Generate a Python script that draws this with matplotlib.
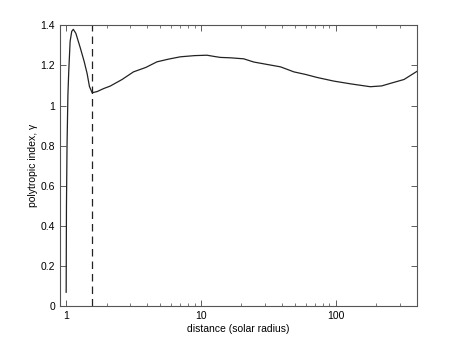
import numpy as np
import matplotlib
matplotlib.use("Agg")
import matplotlib.pyplot as plt
from matplotlib.ticker import FixedLocator, FixedFormatter, LogLocator, NullFormatter

# values
distance = [1.0, 1.005, 1.015, 1.03, 1.045, 1.07, 1.10, 1.13, 1.18, 1.27, 1.36,
            1.43, 1.49, 1.56, 1.7, 1.9, 2.12, 2.6, 3.16, 3.9, 4.72, 5.8, 7.04,
            9.0, 11.1, 12.5, 13.96, 16.6, 20.8, 24.7, 31, 39, 49, 60, 73, 97,
            130, 181, 220, 256, 322, 405]
gamma = [0.07, 0.5, 0.8, 1.05, 1.17, 1.32, 1.37, 1.38, 1.36, 1.29, 1.22,
         1.16, 1.094, 1.064, 1.07, 1.085, 1.097, 1.13, 1.168, 1.19, 1.218, 1.232, 1.243,
         1.249, 1.251, 1.245, 1.240, 1.238, 1.233, 1.217, 1.205, 1.193, 1.168, 1.155, 1.140, 1.122,
         1.108, 1.094, 1.098, 1.111, 1.130, 1.172]
boundary = 1.56

plt.rcParams['font.family'] = ['Liberation Sans', 'DejaVu Sans']
plt.rcParams['font.size'] = 7.5

fig = plt.figure(figsize=(4.6, 3.46), dpi=100)
ax = fig.add_axes([60 / 460, 1 - 306.3 / 346, (416.7 - 60) / 460, (306.3 - 25.3) / 346])

ax.plot(distance, gamma, color='#222222', lw=0.9)
ax.plot([boundary, boundary], [0, 1.4], color='#222222', lw=0.9, ls=(0, (6, 4)))

ax.set_xscale('log')
ax.set_xlim(0.9, 400)
ax.set_ylim(0, 1.4)

ax.xaxis.set_major_locator(FixedLocator([1, 10, 100]))
ax.xaxis.set_major_formatter(FixedFormatter(['1', '10', '100']))
ax.xaxis.set_minor_locator(LogLocator(base=10, subs=np.arange(2, 10)))
ax.xaxis.set_minor_formatter(NullFormatter())
yt = [0, 0.2, 0.4, 0.6, 0.8, 1.0, 1.2, 1.4]
ax.set_yticks(yt)
ax.set_yticklabels(['0', '0.2', '0.4', '0.6', '0.8', '1', '1.2', '1.4'])

ax.tick_params(which='both', direction='in', top=True, right=True, color='#444444')
ax.tick_params(which='major', length=4, width=0.6)
ax.tick_params(which='minor', length=2, width=0.5)
for s in ax.spines.values():
    s.set_color('#555555')
    s.set_linewidth(0.8)

ax.set_xlabel('distance (solar radius)', labelpad=2)
ax.set_ylabel('polytropic index, \u03b3', labelpad=2)

fig.savefig('out.png', dpi=100)
